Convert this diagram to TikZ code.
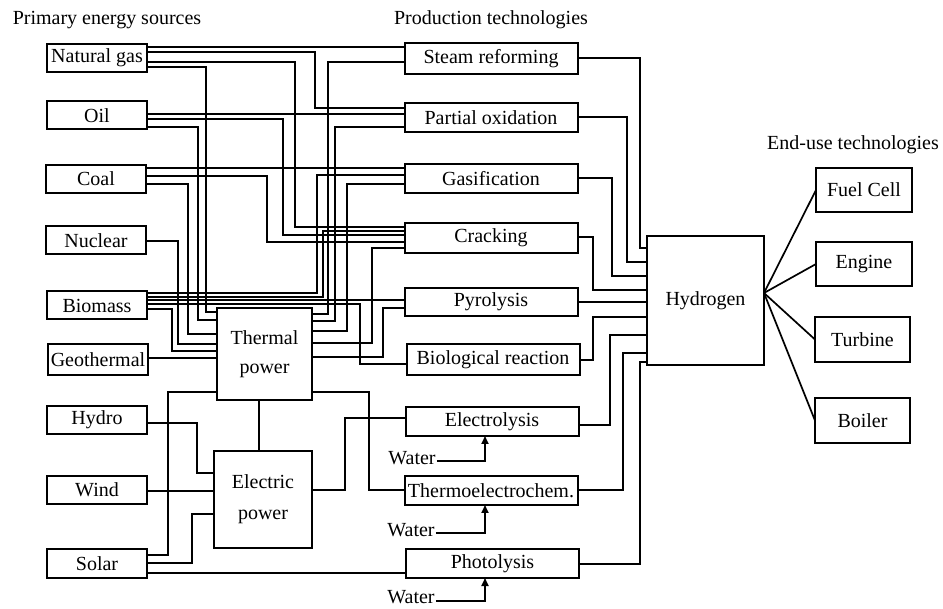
\documentclass[tikz,border=0pt]{standalone}
\usepackage{fontspec}
\setmainfont{Liberation Serif}
\usetikzlibrary{arrows.meta}
\begin{document}
\begin{tikzpicture}[x=1pt,y=-1pt,
  txt/.style={font=\fontsize{20}{29}\selectfont, inner sep=1pt},
  box/.style={txt, draw, line width=2pt, inner sep=0pt, outer sep=0pt, align=center},
  lbox/.style={box, minimum width=100pt, minimum height=28pt},
  pbox/.style={box, minimum width=173pt, minimum height=29pt},
  ebox/.style={box, minimum width=96pt, minimum height=44pt},
  wire/.style={line width=1.7pt},
  warrow/.style={wire, -{Triangle[length=8pt,width=7pt]}}
]
\useasboundingbox (0,0) rectangle (943,609);

% titles
\node[txt] (t1) at (107,20) {Primary energy sources};
\node[txt] (t2) at (491,20) {Production technologies};
\node[txt] (t3) at (853,145) {End-use technologies};

% primary sources
\node[lbox] (ng)    at (97,58)    {Natural gas};
\node[lbox] (oil)   at (97,115.5) {Oil};
\node[lbox] (coal)  at (96,179)   {Coal};
\node[lbox] (nuc)   at (96,240.5) {Nuclear};
\node[lbox] (bio)   at (97,305.5) {Biomass};
\node[lbox, minimum height=31pt] (geo) at (98,359.5) {Geothermal};
\node[lbox] (hydro) at (97,420)   {Hydro};
\node[lbox] (wind)  at (97,490)   {Wind};
\node[lbox, minimum height=29pt] (solar) at (97,563.5) {Solar};

% conversion
\node[box, minimum width=95pt, minimum height=92pt] (therm) at (264.5,354) {Thermal\\power};
\node[box, minimum width=98pt, minimum height=97pt, font=\fontsize{20}{31}\selectfont] (epow) at (263,499.5) {Electric\\power};

% production technologies
\node[pbox, minimum height=31pt] (steam) at (491,59)    {Steam reforming};
\node[pbox] (pox)   at (491,118)   {Partial oxidation};
\node[pbox] (gas)   at (491,178.5) {Gasification};
\node[pbox, minimum height=30pt] (crack) at (491,238) {Cracking};
\node[pbox, minimum height=28pt] (pyro)  at (491,302) {Pyrolysis};
\node[pbox, minimum height=31pt] (bior)  at (493,359.5) {Biological reaction};
\node[pbox] (elys)  at (492,421.5) {Electrolysis};
\node[pbox] (thec)  at (491,490.5) {Thermoelectrochem.};
\node[pbox] (phot)  at (492.5,563.5) {Photolysis};

% hydrogen and end uses
\node[box, minimum width=117pt, minimum height=129pt] (h2) at (705.5,300.5) {Hydrogen};
\node[ebox] (fc)   at (864,190)     {Fuel Cell};
\node[ebox] (eng)  at (864,264)     {Engine};
\node[ebox, minimum width=95pt, minimum height=45pt] (turb) at (862.5,339.5) {Turbine};
\node[ebox, minimum width=95pt, minimum height=45pt] (boil) at (862.5,420.5) {Boiler};

% water
\node[txt] (w1) at (412,458) {Water};
\node[txt] (w2) at (411,530) {Water};
\node[txt] (w3) at (411,597) {Water};

\begin{scope}[wire]
% natural gas
\draw (ng.east|-0,47) -- (steam.west|-0,47);
\draw (ng.east|-0,52) -| (315,108) -- (pox.west|-0,108);
\draw (ng.east|-0,62) -| (295,227) -- (crack.west|-0,227);
\draw (ng.east|-0,67) -| (206,312) -- (therm.west|-0,312);
% oil
\draw (oil.east|-0,114) -- (pox.west|-0,114);
\draw (oil.east|-0,119) -| (283,235) -- (crack.west|-0,235);
\draw (oil.east|-0,127) -| (198,320) -- (therm.west|-0,320);
% coal
\draw (coal.east|-0,168) -- (gas.west|-0,168);
\draw (coal.east|-0,176) -| (267,242) -- (crack.west|-0,242);
\draw (coal.east|-0,184) -| (188,334) -- (therm.west|-0,334);
% nuclear
\draw (nuc.east|-0,241) -| (178,344) -- (therm.west|-0,344);
% biomass
\draw (bio.east|-0,293) -| (317,175) -- (gas.west|-0,175);
\draw (bio.east|-0,297) -| (323,231) -- (crack.west|-0,231);
\draw (bio.east|-0,300) -- (pyro.west|-0,300);
\draw (bio.east|-0,304) -| (360,364) -- (bior.west|-0,364);
\draw (bio.east|-0,309) -| (172,351) -- (therm.west|-0,351);
% geothermal
\draw (geo.east|-0,358) -- (therm.west|-0,358);
% thermal power outputs
\draw (therm.east|-0,314) -| (328,62) -- (steam.west|-0,62);
\draw (therm.east|-0,321) -| (335,127) -- (pox.west|-0,127);
\draw (therm.east|-0,331) -| (347,184) -- (gas.west|-0,184);
\draw (therm.east|-0,343) -| (372,248) -- (crack.west|-0,248);
\draw (therm.east|-0,357) -| (383,308) -- (pyro.west|-0,308);
\draw (therm.east|-0,392) -| (369,490) -- (thec.west|-0,490);
\draw (therm.south-|259,0) -- (epow.north-|259,0);
% hydro, wind, solar
\draw (hydro.east|-0,423) -| (197,473) -- (epow.west|-0,473);
\draw (wind.east|-0,491) -- (epow.west|-0,491);
\draw (solar.east|-0,555) -| (168,392) -- (therm.west|-0,392);
\draw (solar.east|-0,563) -| (192,514) -- (epow.west|-0,514);
\draw (solar.east|-0,573) -- (phot.west|-0,573);
% electric power
\draw (epow.east|-0,490) -| (345,418) -- (elys.west|-0,418);
% production to hydrogen
\draw (steam.east|-0,58) -| (640,248) -- (h2.west|-0,248);
\draw (pox.east|-0,117) -| (627,262) -- (h2.west|-0,262);
\draw (gas.east|-0,178) -| (612,276) -- (h2.west|-0,276);
\draw (crack.east|-0,237) -| (593,290) -- (h2.west|-0,290);
\draw (pyro.east|-0,302) -- (h2.west|-0,302);
\draw (bior.east|-0,360) -| (593,317) -- (h2.west|-0,317);
\draw (elys.east|-0,425) -| (610,335) -- (h2.west|-0,335);
\draw (thec.east|-0,490) -| (623,353) -- (h2.west|-0,353);
\draw (phot.east|-0,564) -| (640,362) -- (h2.west|-0,362);
% hydrogen to end uses
\coordinate (hub) at (h2.east|-0,293);
\draw (hub) -- (fc.west);
\draw (hub) -- (eng.west);
\draw (hub) -- (turb.west);
\draw (hub) -- (boil.west);
\end{scope}

% water arrows
\draw[warrow] (w1.east|-0,461) -| (485,0|-elys.south);
\draw[warrow] (w2.east|-0,533) -| (485,0|-thec.south);
\draw[warrow] (w3.east|-0,601) -| (485,0|-phot.south);
\end{tikzpicture}
\end{document}
